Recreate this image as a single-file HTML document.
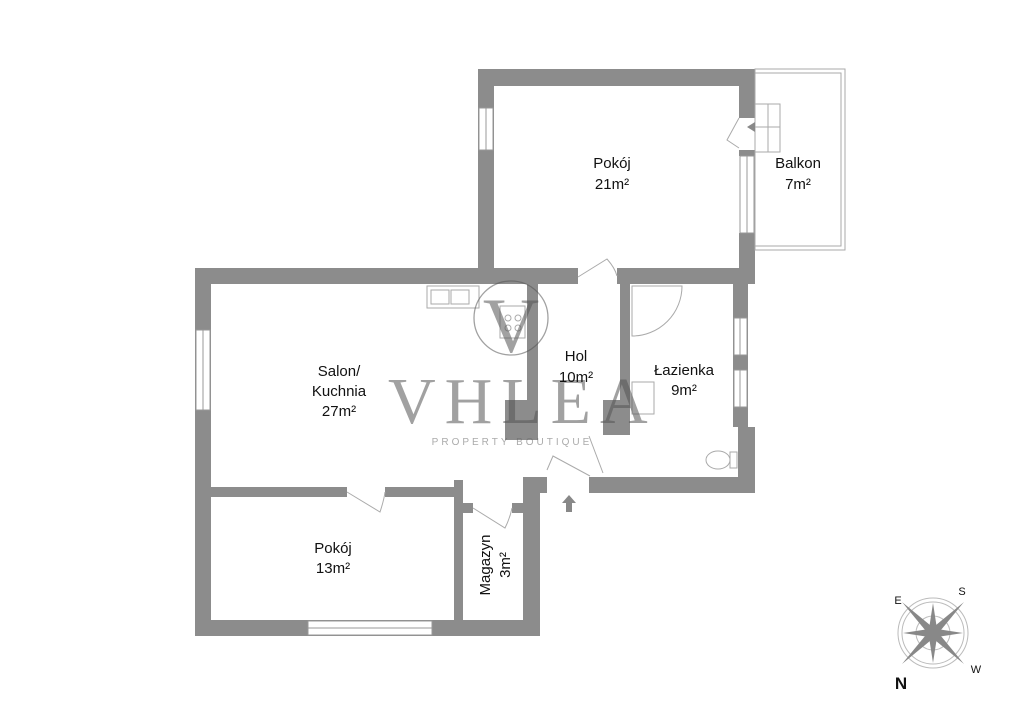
<!DOCTYPE html>
<html><head><meta charset="utf-8"><style>
html,body{margin:0;padding:0;background:#fff;width:1024px;height:724px;overflow:hidden}
svg{display:block}
text{font-family:"Liberation Sans",sans-serif;fill:#111}
</style></head><body>
<svg width="1024" height="724" viewBox="0 0 1024 724">
<g fill="#8c8c8c">
<rect x="478" y="69" width="277" height="17"/>
<rect x="478" y="69" width="16" height="214"/>
<rect x="739" y="69" width="16" height="49"/>
<rect x="739" y="150" width="16" height="6"/>
<rect x="739" y="233" width="16" height="51"/>
<rect x="494" y="268" width="84" height="16"/>
<rect x="617" y="268" width="138" height="16"/>
<rect x="195" y="268" width="299" height="16"/>
<rect x="195" y="268" width="16" height="368"/>
<rect x="527" y="284" width="11" height="120"/>
<rect x="505" y="400" width="33" height="40"/>
<rect x="620" y="284" width="10" height="120"/>
<rect x="603" y="400" width="27" height="35"/>
<rect x="733" y="283" width="15" height="144"/>
<rect x="738" y="427" width="17" height="66"/>
<rect x="589" y="477" width="166" height="16"/>
<rect x="211" y="487" width="136" height="10"/>
<rect x="385" y="487" width="78" height="10"/>
<rect x="454" y="480" width="9" height="156"/>
<rect x="463" y="503" width="10" height="10"/>
<rect x="512" y="503" width="12" height="10"/>
<rect x="523" y="477" width="17" height="159"/>
<rect x="523" y="477" width="24" height="16"/>
<rect x="195" y="620" width="345" height="16"/>
</g>
<g fill="#fff" stroke="#999" stroke-width="1">
<rect x="479" y="108" width="14" height="42"/><line x1="486" y1="108" x2="486" y2="150"/>
<rect x="740" y="156" width="14" height="77"/><line x1="747" y1="156" x2="747" y2="233"/>
<rect x="196" y="330" width="14" height="80"/><line x1="203" y1="330" x2="203" y2="410"/>
<rect x="734" y="318" width="13" height="37"/><line x1="740" y1="318" x2="740" y2="355"/>
<rect x="734" y="370" width="13" height="37"/><line x1="740" y1="370" x2="740" y2="407"/>
<rect x="308" y="621" width="124" height="14"/><line x1="308" y1="628" x2="432" y2="628"/>
</g>
<g fill="none" stroke="#aaa" stroke-width="1">
<rect x="755" y="69" width="90" height="181"/>
<rect x="755" y="73" width="86" height="173"/>
<rect x="755" y="104" width="25" height="48"/><line x1="755" y1="127" x2="780" y2="127"/><line x1="768" y1="104" x2="768" y2="152"/>
<path d="M739 118 L727 140 Q733 144 739 148"/>
<path d="M578 277 L607 259 Q615 268 617 276"/>
<path d="M347 492 L380 512 Q384 500 385 492"/>
<path d="M473 508 L505 528 Q510 518 512 508"/>
<path d="M547 470 L553 456 L590 476"/>
<path d="M589 436 L603 473"/>
<rect x="427" y="286" width="52" height="22"/>
<rect x="431" y="290" width="18" height="14"/><rect x="451" y="290" width="18" height="14"/>
<rect x="500" y="306" width="25" height="32"/>
<circle cx="508" cy="318" r="3"/><circle cx="518" cy="318" r="3"/><circle cx="508" cy="328" r="3"/><circle cx="518" cy="328" r="3"/>
<path d="M632 286 L682 286 A50 50 0 0 1 632 336 Z"/>
<rect x="632" y="382" width="22" height="32"/>
<ellipse cx="718" cy="460" rx="12" ry="9"/><rect x="730" y="452" width="7" height="16"/>
</g>
<path d="M747 127 L755 122 L755 132 Z" fill="#888"/>
<path d="M569 495 L576 503 L572 503 L572 512 L566 512 L566 503 L562 503 Z" fill="#888"/>
<g opacity="0.55">
<circle cx="511" cy="318" r="37" fill="none" stroke="#555" stroke-width="1.3"/>
<text x="511" y="352" font-size="78" text-anchor="middle" style="font-family:'Liberation Serif',serif;fill:#555">V</text>
<text x="388" y="423" font-size="66" letter-spacing="9" style="font-family:'Liberation Serif',serif;fill:#555">VHLEA</text>
<text x="512" y="445" font-size="10" text-anchor="middle" letter-spacing="3" style="fill:#666">PROPERTY BOUTIQUE</text>
</g>
<g font-size="15" text-anchor="middle">
<text x="612" y="168">Pokój</text><text x="612" y="189">21m²</text>
<text x="798" y="168">Balkon</text><text x="798" y="189">7m²</text>
<text x="339" y="376">Salon/</text><text x="339" y="396">Kuchnia</text><text x="339" y="416">27m²</text>
<text x="576" y="361">Hol</text><text x="576" y="382">10m²</text>
<text x="684" y="375">Łazienka</text><text x="684" y="395">9m²</text>
<text x="333" y="553">Pokój</text><text x="333" y="573">13m²</text>
<text transform="translate(490,565) rotate(-90)">Magazyn</text>
<text transform="translate(510,565) rotate(-90)">3m²</text>
</g>
<g fill="none" stroke="#bbb" stroke-width="1">
<circle cx="933" cy="633" r="35"/><circle cx="933" cy="633" r="31"/><circle cx="933" cy="633" r="17"/>
</g>
<g fill="#888">
<path d="M933 603 L937 629 L963 633 L937 637 L933 663 L929 637 L903 633 L929 629 Z"/>
<path d="M902 602 L936 630 L964 664 L930 636 Z"/>
<path d="M964 602 L936 636 L902 664 L930 630 Z"/>
</g>
<text x="898" y="604" font-size="11" text-anchor="middle">E</text>
<text x="962" y="595" font-size="11" text-anchor="middle">S</text>
<text x="976" y="673" font-size="11" text-anchor="middle">W</text>
<text x="901" y="689" font-size="17" font-weight="bold" text-anchor="middle">N</text>
</svg>
</body></html>
